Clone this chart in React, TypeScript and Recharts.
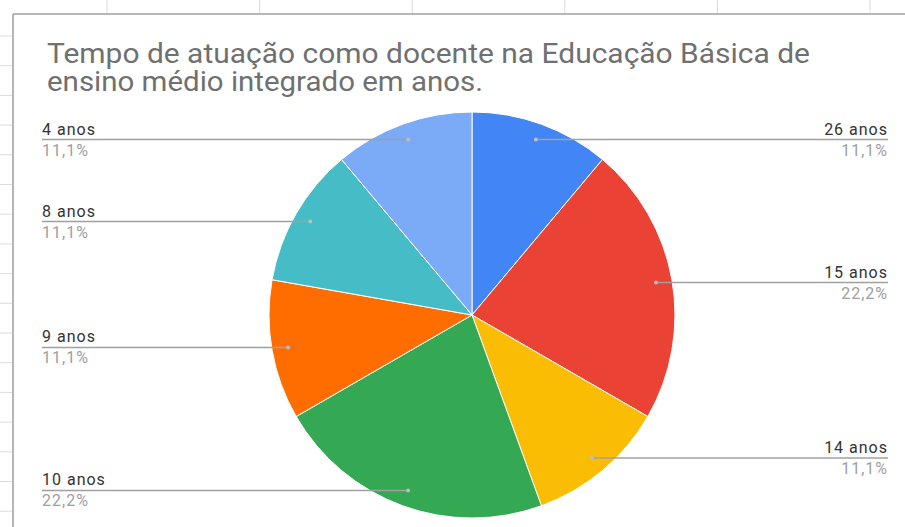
import React from 'react';
import { PieChart, Pie, Cell } from 'recharts';

const categories = ['26 anos', '15 anos', '14 anos', '10 anos', '9 anos', '8 anos', '4 anos'];
const counts = [1, 2, 1, 2, 1, 1, 1];
const colors = ['#4285f4', '#ea4335', '#fbbc04', '#34a853', '#ff6d01', '#46bdc6', '#7baaf7'];
const titleLines = [
  'Tempo de atuação como docente na Educação Básica de',
  'ensino médio integrado em anos.',
];
const titleWidths = [763, 436];

const W = 905;
const H = 527;
const RAD = Math.PI / 180;

const data = categories.map((name, i) => ({ name, value: counts[i] }));

function renderLabel(props: any) {
  const { cx, cy, midAngle, outerRadius, percent, name } = props;
  const r = outerRadius * 0.92;
  const x = cx + r * Math.cos(-midAngle * RAD);
  const y = cy + r * Math.sin(-midAngle * RAD);
  const right = Math.cos(-midAngle * RAD) > 0;
  const edge = right ? 888 : 42;
  const pct = (percent * 100).toFixed(1).replace('.', ',') + '%';
  return (
    <g>
      <line x1={x} y1={y} x2={edge} y2={y} stroke="#a0a0a0" strokeWidth={1.5} />
      <circle cx={x} cy={y} r={2} fill="#bdbdbd" />
      <text x={edge} y={y - 5} textAnchor={right ? 'end' : 'start'} fontSize={16} letterSpacing={1} fill="#333" fontFamily="Roboto">
        {name}
      </text>
      <text x={edge} y={y + 16} textAnchor={right ? 'end' : 'start'} fontSize={16} letterSpacing={1} fill="#9e9e9e" fontFamily="Roboto">
        {pct}
      </text>
    </g>
  );
}

export default function App() {
  const leftTicks = [];
  for (let k = 0; k < 17; k++) leftTicks.push(36 + k * 29.7);
  const topTicks = [];
  for (let k = 0; k < 6; k++) topTicks.push(107 + k * 152.6);

  return (
    <div style={{ position: 'relative', width: W, height: H, background: '#fff', overflow: 'hidden' }}>
      <style>{`body{margin:0}`}</style>
      <svg width={W} height={H} style={{ position: 'absolute', left: 0, top: 0 }}>
        {leftTicks.map((y, i) => (
          <line key={'l' + i} x1={0} x2={12} y1={y} y2={y} stroke="#dcdcdc" strokeWidth={1} />
        ))}
        {topTicks.map((x, i) => (
          <line key={'t' + i} x1={x} x2={x} y1={0} y2={13} stroke="#dcdcdc" strokeWidth={1} />
        ))}
        <line x1={13} x2={W} y1={14} y2={14} stroke="#9e9e9e" strokeWidth={1.5} />
        <line x1={13} x2={13} y1={14} y2={H} stroke="#9e9e9e" strokeWidth={1.5} />
        {titleLines.map((t, i) => (
          <text
            key={i}
            x={47}
            y={63 + i * 28}
            fontSize={27}
            fill="#707070"
            fontFamily="Roboto"
            textLength={titleWidths[i]}
            lengthAdjust="spacingAndGlyphs"
          >
            {t}
          </text>
        ))}
      </svg>
      <div style={{ position: 'absolute', left: 0, top: 0 }}>
        <PieChart width={W} height={H}>
          <Pie
            data={data}
            dataKey="value"
            nameKey="name"
            cx={467}
            cy={310}
            outerRadius={203}
            startAngle={90}
            endAngle={-270}
            stroke="#fff"
            strokeWidth={1}
            label={renderLabel}
            labelLine={false}
            isAnimationActive={false}
          >
            {data.map((d, i) => (
              <Cell key={d.name} fill={colors[i]} />
            ))}
          </Pie>
        </PieChart>
      </div>
    </div>
  );
}
